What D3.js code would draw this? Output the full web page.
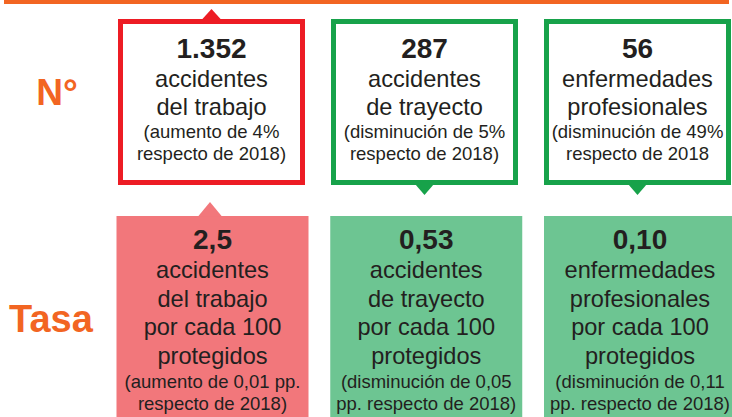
<!DOCTYPE html>
<html><head><meta charset="utf-8">
<script src="https://cdn.jsdelivr.net/npm/d3@7"></script>
<style>
html,body{margin:0;padding:0;background:#fff;overflow:hidden}
svg{display:block}
text{font-family:"Liberation Sans",Arial,sans-serif;fill:#231f20}
</style></head>
<body>
<svg id="c" width="732" height="417"></svg>
<script>
// ---- data ----
const categories = ["accidentes del trabajo", "accidentes de trayecto", "enfermedades profesionales"];
const rowLabels = ["N°", "Tasa"];
const countValues = ["1.352", "287", "56"];
const rateValues = ["2,5", "0,53", "0,10"];
const trend = ["up", "down", "down"];
const countLines = [
  ["accidentes", "del trabajo"],
  ["accidentes", "de trayecto"],
  ["enfermedades", "profesionales"]
];
const countNotes = [
  ["(aumento de 4%", "respecto de 2018)"],
  ["(disminución de 5%", "respecto de 2018)"],
  ["(disminución de 49%", "respecto de 2018"]
];
const rateLines = [
  ["accidentes", "del trabajo", "por cada 100", "protegidos"],
  ["accidentes", "de trayecto", "por cada 100", "protegidos"],
  ["enfermedades", "profesionales", "por cada 100", "protegidos"]
];
const rateNotes = [
  ["(aumento de 0,01 pp.", "respecto de 2018)"],
  ["(disminución de 0,05", "pp. respecto de 2018)"],
  ["(disminución de 0,11", "pp. respecto de 2018)"]
];

// ---- style ----
const ORANGE = "#f26522", RED = "#ed1c24", GREEN = "#17a24a";
const PINK = "#f2777b", LGREEN = "#6dc592";

const svg = d3.select("#c");
const x = d3.scalePoint().domain(categories).range([211.5, 637.5]);
const xr = d3.scalePoint().domain(categories).range([212.5, 640]);

// top orange bar
svg.append("rect").attr("x", 4).attr("y", 0).attr("width", 725).attr("height", 4).attr("fill", ORANGE);

// row labels
svg.append("text").attr("x", 57).attr("y", 105).attr("text-anchor", "middle")
  .style("font-weight", "bold").style("font-size", "37px").style("fill", ORANGE).text(rowLabels[0]);
svg.append("text").attr("x", 51).attr("y", 332).attr("text-anchor", "middle")
  .style("font-weight", "bold").style("font-size", "38px").style("fill", ORANGE).text(rowLabels[1]);

// ---- top row: bordered boxes ----
const topW = 187, topY = 19, topB = 185, sw = 5;
categories.forEach((c, i) => {
  const cx = x(c);
  const col = trend[i] === "up" ? RED : GREEN;
  const g = svg.append("g");
  g.append("rect").attr("x", cx - topW / 2 + sw / 2).attr("y", topY + sw / 2)
    .attr("width", topW - sw).attr("height", topB - topY - sw)
    .attr("fill", "#fff").attr("stroke", col).attr("stroke-width", sw);
  if (trend[i] === "up") {
    g.append("path").attr("d", `M${cx - 10},${topY + 1}L${cx},${topY - 10}L${cx + 10},${topY + 1}Z`).attr("fill", col);
  } else {
    g.append("path").attr("d", `M${cx - 9.5},${topB - 1}L${cx},${topB + 10}L${cx + 9.5},${topB - 1}Z`).attr("fill", col);
  }
  g.append("text").attr("x", cx).attr("y", 58).attr("text-anchor", "middle")
    .style("font-weight", "bold").style("font-size", "28px").text(countValues[i]);
  countLines[i].forEach((t, j) => {
    g.append("text").attr("x", cx).attr("y", 87 + j * 27.5).attr("text-anchor", "middle")
      .style("font-size", "23.6px").text(t);
  });
  countNotes[i].forEach((t, j) => {
    g.append("text").attr("x", cx).attr("y", 138 + j * 22).attr("text-anchor", "middle")
      .style("font-size", "18.5px").text(t);
  });
});

// ---- bottom row: filled boxes ----
const botW = 192, botY = 216;
categories.forEach((c, i) => {
  const cx = xr(c);
  const fill = trend[i] === "up" ? PINK : LGREEN;
  const g = svg.append("g");
  g.append("rect").attr("x", cx - botW / 2).attr("y", botY).attr("width", botW).attr("height", 417 - botY).attr("fill", fill);
  if (trend[i] === "up") {
    g.append("path").attr("d", `M${cx - 14.5},${botY + 0.5}L${cx - 2.5},${botY - 14}L${cx + 9.5},${botY + 0.5}Z`).attr("fill", fill);
  }
  g.append("text").attr("x", cx).attr("y", 249).attr("text-anchor", "middle")
    .style("font-weight", "bold").style("font-size", "28px").text(rateValues[i]);
  rateLines[i].forEach((t, j) => {
    g.append("text").attr("x", cx).attr("y", 278 + j * 28.5).attr("text-anchor", "middle")
      .style("font-size", "23.6px").text(t);
  });
  rateNotes[i].forEach((t, j) => {
    g.append("text").attr("x", cx).attr("y", 388 + j * 21.5).attr("text-anchor", "middle")
      .style("font-size", "18.5px").text(t);
  });
});
</script>
</body></html>
